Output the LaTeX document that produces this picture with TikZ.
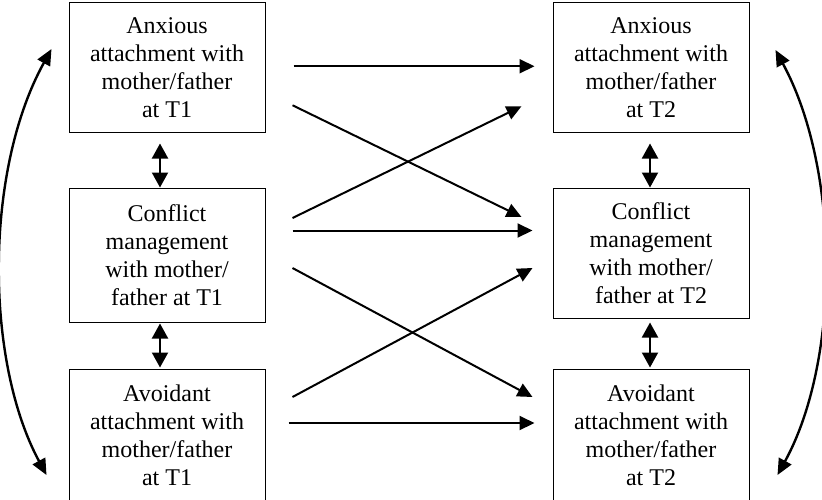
\documentclass[tikz,border=0pt]{standalone}
\usepackage{fontspec}
\setmainfont{Liberation Serif}
\usetikzlibrary{arrows.meta,calc}

\begin{document}
\begin{tikzpicture}[
  x=0.5pt, y=-0.5pt,
  box/.style={draw, line width=0.5pt, rectangle, minimum width=98pt, inner sep=0pt,
              align=center, font=\fontsize{12}{14}\selectfont},
  arr/.style={line width=1pt, -{Triangle[length=7.5pt,width=7pt]}},
  darr/.style={line width=1pt, {Triangle[length=7.5pt,width=8pt]}-{Triangle[length=7.5pt,width=8pt]}},
  carr/.style={line width=1.2pt, {Triangle[length=8pt,width=7pt]}-{Triangle[length=8pt,width=7pt]}}
]
\useasboundingbox (0,0) rectangle (822,499);
\clip (0,0) rectangle (822,499);

% time 1 column
\node[box, minimum height=64.75pt] (A1) at (167,67.25) {Anxious\\attachment with\\mother/father\\at T1};
\node[box, minimum height=67pt]    (C1) at (167,255)   {Conflict\\management\\with mother/\\father at T1};
\node[box, minimum height=66.5pt]  (V1) at (167,435.5) {Avoidant\\attachment with\\mother/father\\at T1};

% time 2 column
\node[box, minimum height=64.75pt] (A2) at (651,67.25) {Anxious\\attachment with\\mother/father\\at T2};
\node[box, minimum height=65pt]    (C2) at (651,253)   {Conflict\\management\\with mother/\\father at T2};
\node[box, minimum height=66.5pt]  (V2) at (651,435.5) {Avoidant\\attachment with\\mother/father\\at T2};

% within-time associations
\draw[darr] ($(A1.south)+(-7,11)$) -- ($(C1.north)+(-7,0)$);
\draw[darr] ($(C1.south)+(-7,1)$)  -- ($(V1.north)+(-7,-1)$);
\draw[darr] ($(A2.south)+(-1,11)$) -- ($(C2.north)+(-1,0)$);
\draw[darr] ($(C2.south)+(-1,4)$)  -- ($(V2.north)+(-1,-1)$);

% stability paths
\draw[arr] ($(A1.east)+(28,-1)$)    -- ($(A2.west)+(-18,-1)$);
\draw[arr] ($(C1.east)+(27,-24.5)$) -- ($(C2.west)+(-20,-22.5)$);
\draw[arr] ($(V1.east)+(23,-12.5)$) -- ($(V2.west)+(-18,-12.5)$);

% cross-lagged paths
\draw[arr] ($(A1.east)+(27,38)$)    -- ($(C2.west)+(-31,-36)$);
\draw[arr] ($(C1.east)+(27,-37)$)   -- ($(A2.west)+(-31,39)$);
\draw[arr] ($(C1.east)+(27,13)$)    -- ($(V2.west)+(-20,-38.5)$);
\draw[arr] ($(V1.east)+(27,-38.5)$) -- ($(C2.west)+(-20,15)$);

% anxious-avoidant correlations
\draw[carr] ($(A1.west)+(-17,-18.25)$) .. controls +(-67,121) and +(-62,-115) .. ($(V1.west)+(-22,39.5)$);
\draw[carr] ($(A2.east)+(26,-17.25)$)  .. controls +(65,120) and +(63,-115) .. ($(V2.east)+(28,39.5)$);
\end{tikzpicture}
\end{document}
